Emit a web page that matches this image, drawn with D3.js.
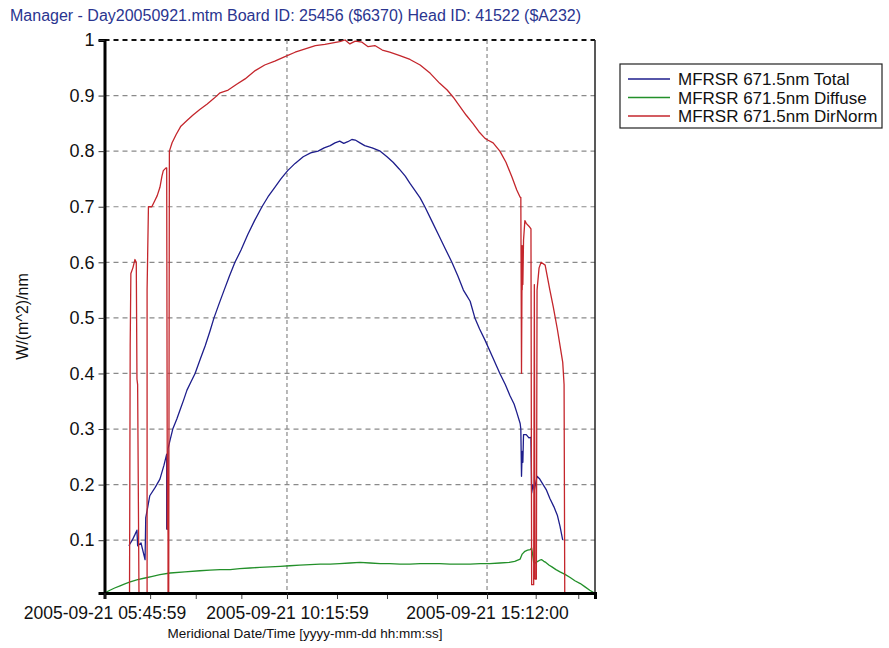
<!DOCTYPE html>
<html>
<head>
<meta charset="utf-8">
<script src="https://cdn.jsdelivr.net/npm/d3@7"></script>
<style>
  html, body { margin: 0; padding: 0; background: #fff; }
  svg { display: block; font-family: "Liberation Sans", Arial, sans-serif; }
</style>
</head>
<body>
<svg id="chart" width="889" height="648"></svg>
<script>
// ---- chart text ----
const chartTitle = "Manager - Day20050921.mtm Board ID: 25456 ($6370) Head ID: 41522 ($A232)";
const xTitle = "Meridional Date/Time [yyyy-mm-dd hh:mm:ss]";
const yTitle = "W/(m^2)/nm";
const day = "2005-09-21";

// ---- series ----
const seriesNames = ["MFRSR 671.5nm Total", "MFRSR 671.5nm Diffuse", "MFRSR 671.5nm DirNorm"];
const seriesColors = ["#1e1e8c", "#23902a", "#c4262c"];

// ---- axes ----
const xDomain = ["05:45:59", "17:51:45"];
const xMajorTicks = ["05:45:59", "10:15:59", "15:12:00"];
const xMinorTicks = ["06:53:29", "08:00:59", "09:08:29", "11:29:59", "12:43:59", "13:58:00", "16:24:00", "17:27:00"];
const yDomain = [0.005, 1];
const yTicks = [0.1, 0.2, 0.3, 0.4, 0.5, 0.6, 0.7, 0.8, 0.9, 1];

// MFRSR 671.5nm Total  [time, W/(m^2)/nm]
const totalData = [
  ["06:22",0.09],["06:27",0.10],["06:31",0.11],["06:34",0.118],["06:35",0.09],["06:40",0.095],
  ["06:46",0.065],["06:47",0.14],["06:50",0.16],["06:53",0.18],["07:01",0.195],["07:08",0.21],
  ["07:14",0.235],["07:18",0.255],["07:18",0.12],["07:19",0.12],["07:20",0.265],["07:23",0.28],
  ["07:27",0.30],["07:33",0.318],["07:38",0.335],["07:43",0.352],["07:48",0.37],["07:54",0.385],
  ["08:00",0.40],["08:08",0.427],["08:15",0.45],["08:22",0.476],["08:28",0.50],["08:36",0.527],
  ["08:43",0.55],["08:51",0.576],["08:59",0.60],["09:08",0.622],["09:18",0.65],["09:28",0.675],
  ["09:39",0.70],["09:48",0.718],["09:58",0.735],["10:07",0.75],["10:17",0.765],["10:28",0.778],
  ["10:40",0.79],["10:51",0.797],["11:02",0.80],["11:11",0.806],["11:20",0.81],["11:27",0.815],
  ["11:34",0.818],["11:40",0.814],["11:46",0.817],["11:52",0.821],["11:57",0.82],["12:04",0.815],
  ["12:11",0.81],["12:22",0.806],["12:34",0.80],["12:44",0.79],["12:53",0.78],["13:02",0.768],
  ["13:11",0.755],["13:18",0.742],["13:25",0.73],["13:33",0.716],["13:40",0.70],["13:50",0.675],
  ["14:00",0.65],["14:10",0.625],["14:20",0.60],["14:29",0.575],["14:37",0.55],["14:42",0.54],
  ["14:47",0.53],["14:54",0.50],["15:01",0.48],["15:09",0.46],["15:20",0.43],["15:31",0.40],
  ["15:39",0.38],["15:46",0.36],["15:52",0.345],["15:56",0.33],["16:01",0.31],["16:02",0.30],
  ["16:03",0.215],["16:04",0.26],["16:05",0.24],["16:06",0.29],["16:10",0.29],["16:14",0.284],
  ["16:17",0.285],["16:18",0.185],["16:20",0.20],["16:22",0.19],["16:26",0.215],["16:30",0.21],
  ["16:35",0.20],["16:40",0.19],["16:45",0.175],["16:51",0.16],["16:56",0.145],["17:00",0.125],
  ["17:04",0.10]
];

// MFRSR 671.5nm Diffuse
const diffuseData = [
  ["05:46",0.005],["05:54",0.01],["06:01",0.014],["06:09",0.018],["06:17",0.022],["06:24",0.025],
  ["06:35",0.029],["06:46",0.032],["06:57",0.035],["07:08",0.038],["07:23",0.041],["07:45",0.043],
  ["08:07",0.045],["08:22",0.046],["08:37",0.047],["08:52",0.047],["09:06",0.049],["09:21",0.05],
  ["09:36",0.051],["09:51",0.052],["10:06",0.053],["10:20",0.054],["10:35",0.055],["10:50",0.056],
  ["11:05",0.057],["11:20",0.057],["11:34",0.058],["11:49",0.059],["12:04",0.06],["12:19",0.059],
  ["12:34",0.058],["12:48",0.058],["13:03",0.057],["13:18",0.057],["13:33",0.058],["13:48",0.058],
  ["14:02",0.058],["14:17",0.057],["14:32",0.057],["14:47",0.057],["15:02",0.058],["15:16",0.058],
  ["15:31",0.059],["15:45",0.06],["15:53",0.062],["16:01",0.066],["16:04",0.075],["16:08",0.08],
  ["16:12",0.082],["16:16",0.083],["16:18",0.086],["16:20",0.07],["16:21",0.06],["16:24",0.059],
  ["16:27",0.062],["16:30",0.064],["16:33",0.065],["16:36",0.062],["16:39",0.06],["16:44",0.055],
  ["16:48",0.052],["16:54",0.047],["17:00",0.043],["17:08",0.038],["17:15",0.033],["17:22",0.027],
  ["17:30",0.022],["17:37",0.016],["17:44",0.01],["17:51",0.005]
];

// MFRSR 671.5nm DirNorm
const dirNormData = [
  ["05:46",0.005],["06:23",0.005],["06:24",0.45],["06:25",0.58],["06:28",0.59],["06:31",0.605],
  ["06:33",0.60],["06:34",0.39],["06:35",0.38],["06:37",0.005],["06:49",0.005],["06:49",0.55],
  ["06:51",0.70],["06:56",0.70],["07:00",0.71],["07:04",0.72],["07:08",0.735],["07:11",0.755],
  ["07:13",0.765],["07:17",0.77],["07:18",0.77],["07:19",0.12],["07:19",0.26],["07:20",0.11],
  ["07:20",0.005],["07:21",0.005],["07:22",0.80],["07:26",0.815],["07:32",0.83],["07:39",0.845],
  ["07:48",0.855],["07:57",0.865],["08:07",0.875],["08:18",0.885],["08:28",0.895],["08:37",0.905],
  ["08:49",0.91],["09:01",0.92],["09:14",0.93],["09:29",0.945],["09:43",0.955],["09:58",0.962],
  ["10:13",0.97],["10:28",0.978],["10:43",0.984],["10:58",0.99],["11:12",0.992],["11:24",0.995],
  ["11:34",0.997],["11:42",1.0],["11:49",0.993],["11:57",0.998],["12:07",0.996],["12:16",0.988],
  ["12:26",0.99],["12:37",0.982],["12:48",0.978],["13:03",0.972],["13:18",0.965],["13:33",0.955],
  ["13:48",0.94],["14:02",0.922],["14:13",0.91],["14:22",0.897],["14:32",0.88],["14:41",0.865],
  ["14:51",0.85],["15:00",0.835],["15:09",0.823],["15:13",0.82],["15:21",0.815],["15:31",0.80],
  ["15:40",0.78],["15:49",0.753],["15:56",0.73],["16:01",0.717],["16:02",0.717],["16:03",0.40],
  ["16:04",0.63],["16:04",0.55],["16:05",0.62],["16:05",0.56],["16:06",0.64],["16:08",0.675],
  ["16:10",0.67],["16:14",0.665],["16:17",0.66],["16:18",0.02],["16:21",0.02],["16:22",0.56],
  ["16:23",0.03],["16:25",0.03],["16:26",0.55],["16:29",0.59],["16:32",0.60],["16:38",0.595],
  ["16:45",0.55],["16:50",0.52],["16:56",0.48],["17:00",0.45],["17:04",0.42],["17:06",0.38],
  ["17:07",0.005],["17:52",0.005]
];

// ---- layout ----
const plot = { left: 104.5, right: 595, top: 40, bottom: 593 };

const parseFull = d3.timeParse("%Y-%m-%d %H:%M:%S");
const toDate = s => parseFull(day + " " + (s.length === 5 ? s + ":00" : s));
const toPoints = arr => arr.map(([t, v]) => ({ t: toDate(t), v }));

const x = d3.scaleTime().domain(xDomain.map(toDate)).range([plot.left, plot.right]);
const y = d3.scaleLinear().domain(yDomain).range([plot.bottom, plot.top]);

const svg = d3.select("#chart");

// title
svg.append("text")
  .attr("x", 10).attr("y", 21)
  .attr("fill", "#2a3590")
  .attr("font-size", "16px")
  .text(chartTitle);

// horizontal grid
svg.append("g")
  .selectAll("line")
  .data(yTicks)
  .join("line")
  .attr("x1", plot.left).attr("x2", plot.right)
  .attr("y1", d => y(d)).attr("y2", d => y(d))
  .attr("stroke", d => d === 1 ? "#111" : "#8a8a8a")
  .attr("stroke-width", d => d === 1 ? 2 : 1.2)
  .attr("stroke-dasharray", "5,4");

// vertical grid at the labelled times
svg.append("g")
  .selectAll("line")
  .data(xMajorTicks.slice(1))
  .join("line")
  .attr("x1", d => x(toDate(d))).attr("x2", d => x(toDate(d)))
  .attr("y1", plot.top).attr("y2", plot.bottom)
  .attr("stroke", "#8a8a8a")
  .attr("stroke-width", 1.2)
  .attr("stroke-dasharray", "4,3");

// series lines
svg.append("defs").append("clipPath").attr("id", "plotClip")
  .append("rect")
  .attr("x", plot.left).attr("y", plot.top - 2)
  .attr("width", plot.right - plot.left).attr("height", plot.bottom - plot.top + 2);

const line = d3.line().x(d => x(d.t)).y(d => y(d.v));
const allSeries = [totalData, diffuseData, dirNormData];
const lines = svg.append("g").attr("clip-path", "url(#plotClip)");
allSeries.forEach((s, i) => {
  lines.append("path")
    .datum(toPoints(s))
    .attr("d", line)
    .attr("fill", "none")
    .attr("stroke", seriesColors[i])
    .attr("stroke-width", 1.3)
    .attr("stroke-linejoin", "round");
});

// right frame edge
svg.append("line")
  .attr("x1", plot.right).attr("x2", plot.right)
  .attr("y1", plot.top).attr("y2", plot.bottom)
  .attr("stroke", "#222").attr("stroke-width", 1.5);

// y axis
const yAxis = svg.append("g")
  .attr("transform", `translate(${plot.left},0)`)
  .call(d3.axisLeft(y).tickValues(yTicks).tickFormat(d3.format(".1~f")).tickSize(6).tickPadding(4));
yAxis.select(".domain").attr("stroke", "#000").attr("stroke-width", 3);
yAxis.selectAll(".tick line").attr("stroke", "#333").attr("stroke-width", 1);
yAxis.selectAll(".tick text").attr("font-size", "18px").attr("font-family", "Liberation Sans, Arial, sans-serif").attr("fill", "#111");

// x axis, minor ticks
const xMinor = svg.append("g")
  .attr("transform", `translate(0,${plot.bottom})`)
  .call(d3.axisBottom(x).tickValues(xMinorTicks.map(toDate)).tickFormat("").tickSize(6));
xMinor.select(".domain").remove();
xMinor.selectAll(".tick line").attr("stroke", "#444").attr("stroke-width", 1);

// x axis, labelled ticks
const xAxis = svg.append("g")
  .attr("transform", `translate(0,${plot.bottom})`)
  .call(d3.axisBottom(x).tickValues(xMajorTicks.map(toDate))
    .tickFormat(d3.timeFormat("%Y-%m-%d %H:%M:%S")).tickSize(6).tickPadding(8));
xAxis.select(".domain").attr("stroke", "#000").attr("stroke-width", 3);
xAxis.selectAll(".tick line").attr("stroke", "#333").attr("stroke-width", 1);
xAxis.selectAll(".tick text").attr("font-size", "17.5px").attr("font-family", "Liberation Sans, Arial, sans-serif").attr("fill", "#111");

// axis titles
svg.append("text")
  .attr("x", 305).attr("y", 638)
  .attr("text-anchor", "middle")
  .attr("font-size", "13.5px")
  .attr("fill", "#111")
  .text(xTitle);

svg.append("text")
  .attr("transform", `translate(28,${(plot.top + plot.bottom) / 2}) rotate(-90)`)
  .attr("text-anchor", "middle")
  .attr("font-size", "16px")
  .attr("fill", "#111")
  .text(yTitle);

// legend
const legend = svg.append("g").attr("transform", "translate(620,64)");
legend.append("rect")
  .attr("width", 262).attr("height", 64)
  .attr("fill", "#fff").attr("stroke", "#222").attr("stroke-width", 1.2);
const entries = legend.selectAll("g.entry")
  .data(seriesNames)
  .join("g")
  .attr("class", "entry")
  .attr("transform", (d, i) => `translate(0,${15 + i * 18.5})`);
entries.append("line")
  .attr("x1", 8).attr("x2", 50)
  .attr("stroke", (d, i) => seriesColors[i]).attr("stroke-width", 1.5);
entries.append("text")
  .attr("x", 58).attr("dy", "0.36em")
  .attr("font-size", "17px")
  .attr("fill", "#111")
  .text(d => d);
</script>
</body>
</html>
